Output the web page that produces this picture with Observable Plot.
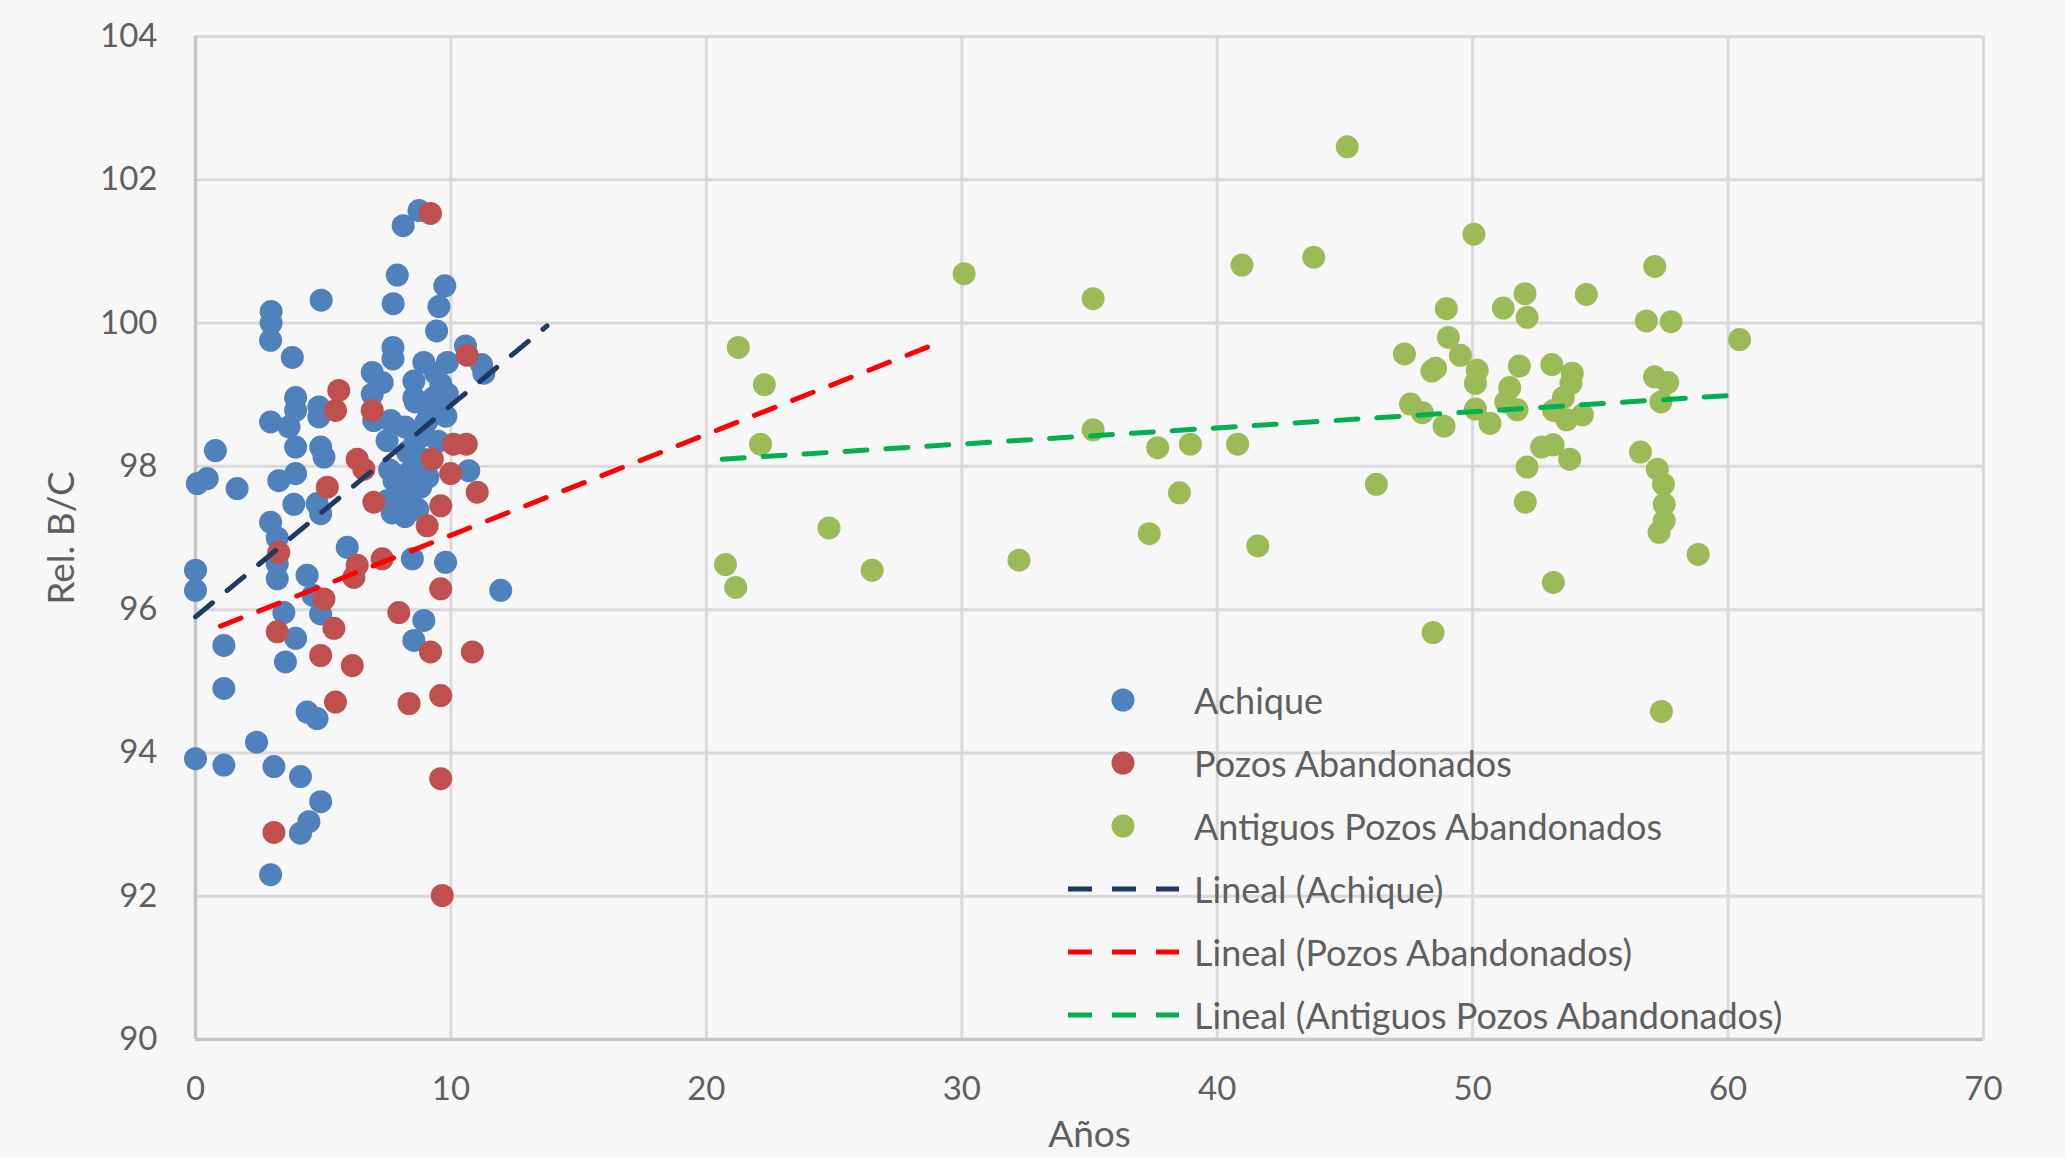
<!DOCTYPE html>
<html><head><meta charset="utf-8">
<script src="https://cdn.jsdelivr.net/npm/d3@7"></script>
<script src="https://cdn.jsdelivr.net/npm/@observablehq/plot@0.6"></script>
<style>
html,body{margin:0;padding:0;background:#f7f7f7;}
#wrap{position:relative;width:2065px;height:1157px;overflow:hidden;}
#legend{position:absolute;left:1060px;top:668px;font-family:Lato, sans-serif;font-size:36px;color:#5f5f5f;}
.row{display:flex;align-items:center;height:63px;}
.row svg{flex:none;}
.row span{margin-left:12px;white-space:nowrap;}
</style></head><body><div id="wrap"><div id="chart"></div><div id="legend"></div></div>
<script>
// Achique (blue)
const achiqueX = [8.75,8.13,7.9,9.76,9.53,7.74,4.92,2.96,2.96,2.94,9.44,3.79,7.73,7.73,10.57,11.29,11.2,6.92,7.31,8.94,9.86,8.55,9.6,6.92,3.92,3.92,4.83,4.83,2.94,3.66,6.98,7.64,8.6,9.2,8.2,9.0,9.8,8.6,9.5,7.5,8.29,8.9,7.6,8.3,9.1,10.7,4.9,5.03,3.92,3.92,3.26,0.78,0.46,0.07,1.63,3.85,2.94,3.2,3.2,3.2,4.9,4.76,7.9,8.4,7.7,8.2,8.7,8.0,5.94,8.49,9.79,11.95,0.0,0.0,4.37,4.6,4.9,3.46,3.92,3.52,8.94,8.55,1.11,1.11,4.37,4.76,2.39,0.0,1.11,3.07,4.11,4.9,4.44,4.11,2.94,8.55,9.33,9.86,9.07,8.81,7.77,8.55,8.29,7.5,8.03,8.81,9.4];
const achiqueY = [101.57,101.36,100.67,100.52,100.23,100.27,100.32,100.16,100.0,99.76,99.89,99.52,99.66,99.5,99.68,99.3,99.42,99.31,99.17,99.45,99.45,99.19,99.15,99.01,98.96,98.78,98.83,98.69,98.62,98.55,98.64,98.64,98.9,98.9,98.55,98.6,98.7,98.35,98.35,98.36,98.2,98.1,97.95,97.9,97.85,97.94,98.27,98.13,98.27,97.9,97.8,98.22,97.83,97.76,97.69,97.47,97.22,97.0,96.64,96.43,97.34,97.48,97.55,97.45,97.35,97.3,97.4,97.6,96.87,96.71,96.66,96.27,96.55,96.27,96.48,96.2,95.94,95.96,95.6,95.27,95.85,95.57,95.5,94.9,94.57,94.48,94.15,93.92,93.83,93.81,93.67,93.32,93.04,92.88,92.3,98.96,98.96,99.01,98.64,98.41,97.8,97.89,97.66,97.52,97.41,97.71,99.3];
// Pozos Abandonados (red)
const pozosX = [9.2,10.64,5.61,5.48,6.92,10.1,10.6,9.27,9.99,11.03,6.33,6.59,6.98,9.6,5.16,9.07,3.26,6.33,6.2,7.31,9.6,5.03,5.42,3.2,4.9,6.14,7.96,9.2,10.84,5.48,8.36,9.6,9.6,3.07,9.66];
const pozosY = [101.53,99.55,99.06,98.78,98.78,98.31,98.31,98.1,97.9,97.64,98.1,97.96,97.5,97.45,97.71,97.17,96.8,96.62,96.45,96.71,96.29,96.15,95.74,95.69,95.36,95.22,95.96,95.41,95.41,94.71,94.69,94.8,93.64,92.89,92.01];
// Antiguos Pozos Abandonados (green)
const antiguosX = [21.25,22.27,22.12,30.09,35.14,35.14,40.97,43.78,45.09,37.67,38.95,40.8,38.52,37.34,41.59,46.23,24.8,26.49,32.24,20.75,21.15,50.05,48.97,51.2,52.05,52.13,54.45,47.33,49.05,49.52,48.55,48.4,50.18,50.11,51.83,51.45,51.3,51.74,53.1,53.9,53.85,53.55,53.17,53.68,54.3,47.57,48.03,48.88,50.11,50.68,52.7,53.15,53.8,52.13,52.06,53.16,48.45,57.13,56.8,57.77,60.45,57.12,57.64,57.37,56.57,57.23,57.47,57.5,57.5,57.3,58.83,57.39];
const antiguosY = [99.66,99.14,98.31,100.69,100.34,98.51,100.81,100.92,102.46,98.26,98.31,98.31,97.63,97.06,96.89,97.75,97.14,96.55,96.69,96.63,96.31,101.24,100.2,100.21,100.41,100.08,100.4,99.57,99.8,99.55,99.37,99.33,99.34,99.16,99.4,99.1,98.9,98.79,99.42,99.3,99.16,98.96,98.78,98.65,98.72,98.87,98.75,98.56,98.8,98.6,98.27,98.3,98.1,97.99,97.5,96.38,95.68,100.79,100.03,100.02,99.77,99.25,99.17,98.9,98.2,97.96,97.75,97.47,97.24,97.08,96.77,94.58];

const seriesNames = ["Achique","Pozos Abandonados","Antiguos Pozos Abandonados"];
const seriesColors = ["#4F81BD","#C0504D","#9BBB59"];
const trendNames = ["Lineal (Achique)","Lineal (Pozos Abandonados)","Lineal (Antiguos Pozos Abandonados)"];
const trendColors = ["#1F3864","#FF0000","#00B050"];
const trendX0 = [0, 0.98, 20.62];
const trendY0 = [95.9, 95.77, 98.1];
const trendX1 = [13.76, 28.77, 60.53];
const trendY1 = [99.96, 99.68, 99.0];
const xTicks = [0,10,20,30,40,50,60,70];
const yTicks = [90,92,94,96,98,100,102,104];
const xLabel = "Años";
const yLabel = "Rel. B/C";

const points = [];
[[achiqueX, achiqueY],[pozosX, pozosY],[antiguosX, antiguosY]].forEach(([xs, ys], i) => {
  xs.forEach((x, j) => points.push({serie: seriesNames[i], x, y: ys[j]}));
});
const trends = [];
trendNames.forEach((n, i) => {
  trends.push({serie: n, x: trendX0[i], y: trendY0[i]});
  trends.push({serie: n, x: trendX1[i], y: trendY1[i]});
});

const textColor = "#5f5f5f";
const chart = Plot.plot({
  width: 2065, height: 1157,
  marginLeft: 195, marginRight: 82, marginTop: 36, marginBottom: 118,
  style: {background: "#f7f7f7", fontFamily: "Lato, sans-serif", color: textColor},
  x: {domain: [0, 70]},
  y: {domain: [90, 104]},
  color: {domain: [...seriesNames, ...trendNames], range: [...seriesColors, ...trendColors]},
  marks: [
    Plot.gridX(xTicks, {stroke: "#d9d9d9", strokeOpacity: 1, strokeWidth: 3}),
    Plot.gridY(yTicks, {stroke: "#d9d9d9", strokeOpacity: 1, strokeWidth: 3}),
    Plot.ruleX([0], {stroke: "#c6c6c6", strokeWidth: 3.5}),
    Plot.ruleY([90], {stroke: "#c6c6c6", strokeWidth: 3.5}),
    Plot.axisX(xTicks, {tickSize: 0, tickPadding: 37, fontSize: 33, label: null, color: textColor, tickFormat: d => String(d)}),
    Plot.axisY(yTicks, {tickSize: 0, tickPadding: 38, fontSize: 33, label: null, color: textColor, tickFormat: d => String(d)}),
    Plot.dot(points, {x: "x", y: "y", r: 11.5, fill: "serie", stroke: null}),
    Plot.line(trends, {x: "x", y: "y", z: "serie", stroke: "serie", strokeWidth: 5, strokeDasharray: "22,19"}),
    Plot.text([yLabel], {text: d => d, frameAnchor: "left", dx: -133, rotate: -90, textAnchor: "middle", lineAnchor: "middle", fontSize: 37, fill: textColor}),
    Plot.text([xLabel], {text: d => d, frameAnchor: "bottom", dy: 96, textAnchor: "middle", lineAnchor: "middle", fontSize: 37, fill: textColor})
  ]
});
document.getElementById("chart").appendChild(chart);

// Legend (HTML overlay)
const legend = document.getElementById("legend");
const ns = "http://www.w3.org/2000/svg";
function addRow(name, color, kind) {
  const row = document.createElement("div");
  row.className = "row";
  const svg = document.createElementNS(ns, "svg");
  svg.setAttribute("width", 122); svg.setAttribute("height", 40);
  if (kind === "dot") {
    const c = document.createElementNS(ns, "circle");
    c.setAttribute("cx", 63); c.setAttribute("cy", 20); c.setAttribute("r", 11.5);
    c.setAttribute("fill", color);
    svg.appendChild(c);
  } else {
    const l = document.createElementNS(ns, "line");
    l.setAttribute("x1", 8); l.setAttribute("x2", 119); l.setAttribute("y1", 20); l.setAttribute("y2", 20);
    l.setAttribute("stroke", color); l.setAttribute("stroke-width", 5);
    l.setAttribute("stroke-dasharray", "24,20");
    svg.appendChild(l);
  }
  const span = document.createElement("span");
  span.textContent = name;
  row.appendChild(svg); row.appendChild(span);
  legend.appendChild(row);
}
seriesNames.forEach((n, i) => addRow(n, seriesColors[i], "dot"));
trendNames.forEach((n, i) => addRow(n, trendColors[i], "line"));
</script></body></html>
